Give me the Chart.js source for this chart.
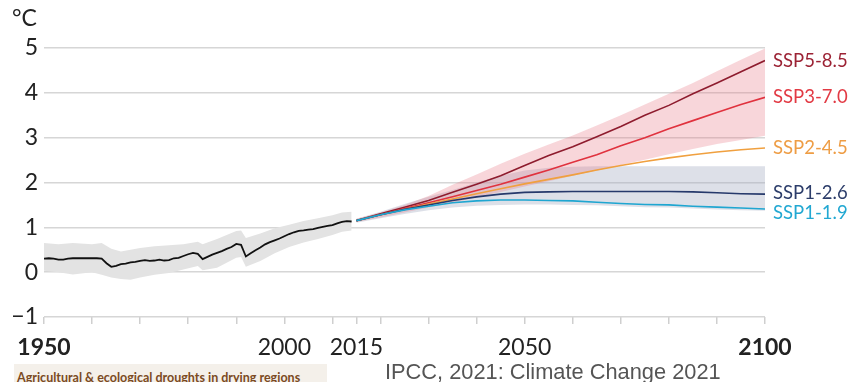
<!DOCTYPE html>
<html>
<head>
<meta charset="utf-8">
<script src="https://cdn.jsdelivr.net/npm/chart.js@4/dist/chart.umd.min.js"></script>
<style>
  html, body { margin: 0; padding: 0; background: #fff; }
  #wrap { position: relative; width: 852px; height: 382px; overflow: hidden; }
  #chart { position: absolute; left: 0; top: 0; }
  .tag {
    position: absolute; left: 14px; top: 364px; width: 313px; height: 24px;
    background: #f4f0ea; color: #7b4a22; padding: 6px 0 0 3px; box-sizing: border-box;
    font: bold 12.5px Lato, sans-serif; line-height: 16px; white-space: nowrap;
  }
  .src {
    position: absolute; left: 385px; top: 359px;
    font: 21.8px "Liberation Sans", Arial, sans-serif; color: #555; white-space: nowrap;
  }
</style>
</head>
<body>
<div id="wrap">
  <canvas id="chart" width="852" height="382"></canvas>
  <div class="tag">Agricultural &amp; ecological droughts in drying regions</div>
  <div class="src">IPCC, 2021: Climate Change 2021</div>
</div>
<script>
// Observed global surface temperature change (°C)
const histYears = [1950,1951,1952,1953,1954,1955,1956,1957,1958,1959,1960,1961,1962,1963,1964,1965,1966,1967,1968,1969,
  1970,1971,1972,1973,1974,1975,1976,1977,1978,1979,1980,1981,1982,1983,1984,1985,1986,1987,1988,1989,
  1990,1991,1992,1993,1994,1995,1996,1997,1998,1999,2000,2001,2002,2003,2004,2005,2006,2007,2008,2009,
  2010,2011,2012,2013,2014];
const histMean = [0.30,0.31,0.30,0.28,0.28,0.30,0.31,0.31,0.31,0.31,0.31,0.31,0.30,0.20,0.12,0.14,0.18,0.19,0.22,0.23,
  0.25,0.27,0.25,0.26,0.28,0.26,0.27,0.31,0.32,0.36,0.40,0.43,0.41,0.29,0.34,0.39,0.43,0.47,0.52,0.56,
  0.63,0.61,0.35,0.42,0.49,0.55,0.62,0.67,0.71,0.75,0.80,0.85,0.89,0.92,0.93,0.95,0.96,0.99,1.01,1.03,
  1.05,1.09,1.12,1.14,1.13];

// Observed uncertainty range
const histBandYears = [1950,1953,1956,1960,1962,1964,1966,1968,1970,1973,1976,1979,1982,1983,1986,1990,1991,1992,1995,1998,2001,2004,2007,2010,2012,2014];
const histUpper = [0.65,0.62,0.65,0.62,0.65,0.52,0.46,0.50,0.54,0.58,0.60,0.62,0.68,0.62,0.74,0.92,0.93,0.76,0.86,0.98,1.06,1.14,1.20,1.27,1.33,1.35];
const histLower = [0.03,0.00,-0.05,0.00,-0.06,-0.12,-0.15,-0.17,-0.12,-0.06,-0.02,0.06,0.14,0.04,0.10,0.32,0.34,0.12,0.25,0.42,0.56,0.66,0.74,0.83,0.90,0.93];

// Scenario projections
const futureYears = [2015,2020,2025,2030,2035,2040,2045,2050,2055,2060,2065,2070,2075,2080,2085,2090,2095,2100];
const ssp585 = [1.15,1.30,1.45,1.60,1.78,1.96,2.15,2.38,2.60,2.80,3.02,3.25,3.50,3.72,3.98,4.22,4.47,4.72];
const ssp370 = [1.15,1.28,1.42,1.55,1.68,1.82,1.96,2.12,2.28,2.45,2.62,2.82,3.00,3.20,3.38,3.56,3.74,3.90];
const ssp245 = [1.15,1.28,1.40,1.52,1.63,1.75,1.86,1.97,2.07,2.17,2.28,2.38,2.47,2.55,2.62,2.68,2.73,2.77];
const ssp126 = [1.15,1.28,1.40,1.50,1.60,1.68,1.74,1.78,1.79,1.80,1.80,1.80,1.80,1.80,1.79,1.77,1.75,1.74];
const ssp119 = [1.15,1.28,1.39,1.47,1.55,1.59,1.61,1.61,1.60,1.59,1.56,1.53,1.51,1.50,1.47,1.45,1.43,1.41];

// Very likely ranges (high and low scenarios)
const highUpper = [1.19,1.33,1.50,1.70,1.95,2.18,2.42,2.64,2.85,3.05,3.27,3.50,3.74,3.98,4.22,4.48,4.74,4.99];
const highLower = [1.12,1.22,1.33,1.44,1.55,1.67,1.79,1.91,2.03,2.15,2.27,2.39,2.51,2.63,2.75,2.86,2.95,3.04];
const lowUpper  = [1.19,1.35,1.52,1.68,1.83,2.00,2.15,2.27,2.33,2.35,2.36,2.36,2.36,2.36,2.36,2.36,2.36,2.36];
const lowLower  = [1.10,1.20,1.30,1.38,1.44,1.48,1.50,1.51,1.51,1.50,1.49,1.47,1.45,1.44,1.42,1.40,1.38,1.37];

// Axes
const xTickYears = [1950,1960,1970,1980,1990,2000,2010,2015,2020,2030,2040,2050,2060,2070,2080,2090,2100];
const xLabelYears = [1950,2000,2015,2050,2100];
const xBoldYears = [1950,2100];
const yTicks = [-1,0,1,2,3,4,5];

const scenarioNames = ['SSP5-8.5','SSP3-7.0','SSP2-4.5','SSP1-2.6','SSP1-1.9'];
const scenarioValues = [ssp585, ssp370, ssp245, ssp126, ssp119];
const lineColors = ['#8e1c2e','#e0323e','#f0a03f','#26396b','#1fa6d1'];
const textColors = ['#9c2335','#e23a44','#ee9d45','#2c3d6a','#22a8d2'];
const labelNudge = [0, 0, 0, -1, 4];

const pts = (xs, ys) => xs.map((x, i) => ({ x, y: ys[i] }));

const band = (upper, lower, xs, color, order) => ([
  { data: pts(xs, upper), borderWidth: 0, pointRadius: 0, backgroundColor: color, fill: '+1', order, tension: 0 },
  { data: pts(xs, lower), borderWidth: 0, pointRadius: 0, backgroundColor: color, fill: false, order, tension: 0 }
]);

const datasets = [
  ...band(histUpper, histLower, histBandYears, '#e3e3e3', 30),
  ...band(lowUpper, lowLower, futureYears, 'rgba(160,170,192,0.36)', 29),
  ...band(highUpper, highLower, futureYears, 'rgba(232,118,134,0.30)', 28),
  { data: pts(histYears, histMean), borderColor: '#111', borderWidth: 1.8, pointRadius: 0, fill: false, order: 5 }
];
scenarioValues.slice().reverse().forEach((vals, k) => {
  const i = scenarioValues.length - 1 - k;
  datasets.push({ data: pts(futureYears, vals), borderColor: lineColors[i], borderWidth: 1.6,
    pointRadius: 0, fill: false, order: 10 + k });
});

const seriesLabels = {
  id: 'seriesLabels',
  afterDatasetsDraw(chart) {
    const { ctx, chartArea, scales: { y } } = chart;
    ctx.save();
    ctx.textBaseline = 'middle';
    ctx.textAlign = 'left';
    ctx.fillStyle = '#222';
    ctx.font = '23px Lato';
    ctx.fillText('°C', 12, 19);
    ctx.font = '18.5px Lato';
    scenarioNames.forEach((name, i) => {
      const vals = scenarioValues[i];
      const py = y.getPixelForValue(vals[vals.length - 1]) + labelNudge[i];
      ctx.fillStyle = textColors[i];
      ctx.fillText(name, chartArea.right + 8, py);
    });
    ctx.restore();
  }
};

new Chart(document.getElementById('chart'), {
  type: 'line',
  data: { datasets },
  options: {
    responsive: false,
    animation: false,
    devicePixelRatio: 1,
    layout: { padding: { top: 48, right: 87, bottom: 20, left: 0 } },
    plugins: { legend: { display: false }, tooltip: { enabled: false } },
    elements: { line: { tension: 0 } },
    scales: {
      x: {
        type: 'linear', min: 1950, max: 2100,
        afterBuildTicks: (s) => { s.ticks = xTickYears.map(v => ({ value: v })); },
        afterFit: (s) => { s.height = 45; },
        border: { display: false },
        grid: { drawOnChartArea: false, drawTicks: true, tickLength: 7, color: '#cfcfcf', lineWidth: 1.5 },
        ticks: {
          autoSkip: false, maxRotation: 0, padding: 10, color: '#222',
          font: (c) => ({ family: 'Lato', size: 23,
            weight: (c.tick && xBoldYears.includes(c.tick.value)) ? 'bold' : 'normal' }),
          callback: (v) => xLabelYears.includes(v) ? String(v) : ''
        }
      },
      y: {
        min: -1, max: 5,
        afterBuildTicks: (s) => { s.ticks = yTicks.map(v => ({ value: v })); },
        afterFit: (s) => { s.width = 44; },
        border: { display: false },
        grid: { drawTicks: false, color: '#d6d6d6', lineWidth: 1.5 },
        ticks: {
          padding: 6, color: '#222', font: { family: 'Lato', size: 23 },
          callback: (v) => v < 0 ? '\u2212' + Math.abs(v) : String(v)
        }
      }
    }
  },
  plugins: [seriesLabels]
});
</script>
</body>
</html>
